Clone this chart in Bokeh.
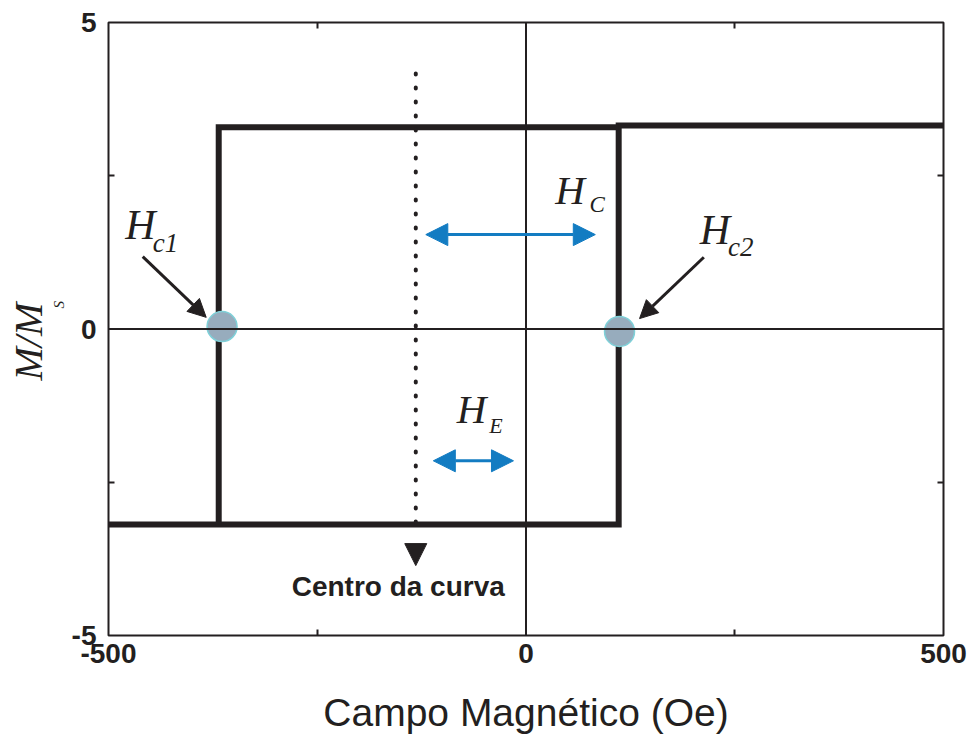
import math
from bokeh.plotting import figure
from bokeh.models import FixedTicker, LinearAxis, Span, Label, Arrow, NormalHead, Title
from bokeh.embed import file_html
from bokeh.resources import INLINE

# ---------------- data ----------------
x_ticks = [-500, 0, 500]
x_tick_labels = ["-500", "0", "500"]
x_minor = [-250, 250]
y_ticks = [-5, 0, 5]
y_tick_labels = ["-5", "0", "5"]
y_minor = [-2.5, 2.5]

# ascending branch (from negative saturation)
asc_field = [-500, 111, 111, 500]
asc_m = [-3.19, -3.19, 3.32, 3.32]
# descending branch (from positive saturation)
desc_field = [111, -368, -368]
desc_m = [3.29, 3.29, -3.19]

# coercive fields Hc1, Hc2 (markers)
hc_field = [-364, 112]
hc_m = [0.04, -0.04]

# centre of the loop (dotted line)
center_field = [-132, -132]
center_m = [4.17, -3.34]

INK = "#231f20"
BLUE = "#137cc2"
SERIF = "Liberation Serif"
SANS = "Liberation Sans"

p = figure(frame_width=835, frame_height=613, x_range=(-500, 500), y_range=(-5, 5),
           output_backend="svg", toolbar_location=None,
           min_border_left=108, min_border_right=30, min_border_top=22, min_border_bottom=110,
           background_fill_color="white", border_fill_color="white")
p.grid.visible = False
p.outline_line_color = INK
p.outline_line_width = 2
p.outline_line_alpha = 1.0


def style_axis(ax, ticks, minor, labels=None):
    ax.ticker = FixedTicker(ticks=ticks, minor_ticks=minor)
    ax.axis_line_color = None
    ax.major_tick_in = 0
    ax.major_tick_out = 0
    ax.minor_tick_in = 6
    ax.minor_tick_out = 0
    ax.minor_tick_line_color = INK
    ax.minor_tick_line_width = 2
    if labels is not None:
        ax.major_label_overrides = {t: s for t, s in zip(ticks, labels)}
        ax.major_label_text_font = SANS
        ax.major_label_text_font_style = "bold"
        ax.major_label_text_font_size = "28px"
        ax.major_label_text_color = INK
    else:
        ax.major_label_standoff = 0


style_axis(p.xaxis[0], x_ticks, x_minor, x_tick_labels)
style_axis(p.yaxis[0], y_ticks, y_minor, y_tick_labels)
p.xaxis.major_label_standoff = 8
p.yaxis.major_label_standoff = 12
p.xaxis.axis_label = "Campo Magnético (Oe)"
p.xaxis.axis_label_text_font = SANS
p.xaxis.axis_label_text_font_style = "normal"
p.xaxis.axis_label_text_font_size = "39px"
p.xaxis.axis_label_text_color = INK
p.xaxis.axis_label_standoff = 25

# frame ticks on top and right (minor ticks only, no labels)
top_ax = LinearAxis()
style_axis(top_ax, [], x_minor)
p.add_layout(top_ax, "above")
right_ax = LinearAxis()
style_axis(right_ax, [], y_minor)
p.add_layout(right_ax, "right")

# y-axis title M/M_S (subscript S in its own panel next to the axis)
p.add_layout(Title(text="S", text_font=SERIF, text_font_style="italic", text_font_size="15px",
                   text_color=INK, align="left", offset=327, standoff=0,
                   vertical_align="top"), "left")
p.add_layout(Title(text="M/M", text_font=SERIF, text_font_style="italic", text_font_size="40px",
                   text_color=INK, align="left", offset=255, standoff=0,
                   vertical_align="bottom"), "left")

# zero lines
p.add_layout(Span(location=0, dimension="width", line_color=INK, line_width=2))
p.add_layout(Span(location=0, dimension="height", line_color=INK, line_width=2))

# hysteresis loop
p.line(asc_field, asc_m, line_color=INK, line_width=6, line_join="miter")
p.line(desc_field, desc_m, line_color=INK, line_width=6, line_join="miter")

# dotted centre line + arrow head
p.line(center_field, center_m, line_color=INK, line_width=4, line_dash="1 13", line_cap="round")
p.add_layout(Arrow(end=NormalHead(size=22, fill_color=INK, line_color=INK),
                   x_start=-132, y_start=-3.50, x_end=-132, y_end=-3.86,
                   line_alpha=0))

# coercive field markers
p.scatter(hc_field, hc_m, size=30, fill_color="#97acbd", line_color="#7fd0d8", line_width=1.5)

# blue double arrows
for xs, xe, yy in [(-120, 83, 1.54), (-111, -15, -2.15)]:
    p.add_layout(Arrow(start=NormalHead(size=22, fill_color=BLUE, line_color=BLUE),
                       end=NormalHead(size=22, fill_color=BLUE, line_color=BLUE),
                       x_start=xs, y_start=yy, x_end=xe, y_end=yy,
                       line_color=BLUE, line_width=3))

# black pointer arrows
for xs, ys, xe, ye in [(-459, 1.18, -383, 0.19), (213, 1.17, 136, 0.17)]:
    p.add_layout(Arrow(end=NormalHead(size=18, fill_color=INK, line_color=INK),
                       x_start=xs, y_start=ys, x_end=xe, y_end=ye,
                       line_color=INK, line_width=3))


def lab(text, x, y, size, style="italic", font=SERIF, align="left"):
    p.add_layout(Label(x=x, y=y, text=text, text_font=font, text_font_style=style,
                       text_font_size=size, text_color=INK, text_align=align,
                       text_baseline="alphabetic"))


# labels H_c1, H_c2, H_C, H_E
lab("H", -480, 1.69, "42px")
lab("c1", -447, 1.40, "27px")
lab("H", 208, 1.62, "42px")
lab("c2", 242, 1.33, "27px")
lab("H", 35, 2.27, "41px")
lab("C", 76, 2.025, "23px")
lab("H", -83, -1.30, "41px")
lab("E", -44, -1.575, "22px")

# Centro da curva
lab("Centro da curva", -153, -4.20, "28px", style="bold", font=SANS, align="center")

open("out.html", "w").write(file_html(p, INLINE))
